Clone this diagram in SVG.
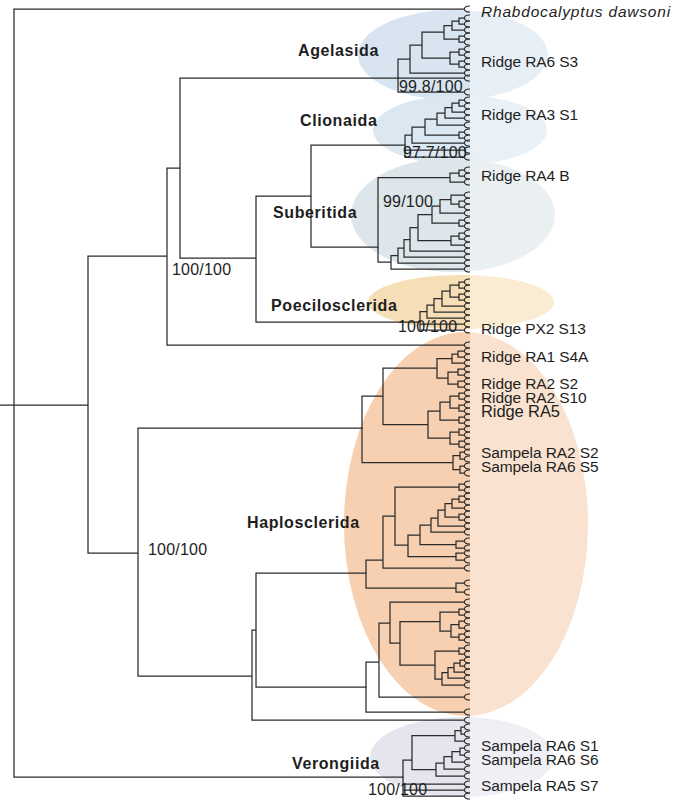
<svg xmlns="http://www.w3.org/2000/svg" xmlns:xlink="http://www.w3.org/1999/xlink" width="680" height="801" viewBox="0 0 680 801">
<defs>
<style>
.tree{fill:none;stroke:#2b2b2b;stroke-width:1.25;stroke-linecap:square}
.tx{font-family:"Liberation Sans",Arial,sans-serif;fill:#1e1e1e}
.taxon{font-size:15.5px;letter-spacing:-0.1px}
.it{font-style:italic;letter-spacing:0.8px}
.clade{font-size:16px;font-weight:bold;letter-spacing:0.6px}
.bs{font-size:16px;letter-spacing:0.2px}
</style>
<path id="c" d="M470,-3 C466.2,-3.2 464.4,-1.7 464.4,0 C464.4,1.7 466.2,3.2 470,3" fill="none" stroke="#2b2b2b" stroke-width="1.1"/>
</defs>
<rect width="680" height="801" fill="#ffffff"/>
<g id="clade-shading">
<ellipse cx="453" cy="55" rx="95" ry="45" fill="#d8e5f1"/>
<ellipse cx="460" cy="130" rx="87" ry="35" fill="#dbe8f2"/>
<ellipse cx="453" cy="215" rx="102" ry="57" fill="#dde6ea"/>
<ellipse cx="461" cy="302" rx="93" ry="27" fill="#f6dfb6"/>
<ellipse cx="466" cy="524" rx="122" ry="192" fill="#f6d0b1"/>
<ellipse cx="462" cy="757" rx="92" ry="40" fill="#e5e5ee"/>
<rect x="470" y="0" width="210" height="801" fill="#ffffff" opacity="0.4"/>
</g>
<g id="connectors" class="tree">
<path d="M0,405H88 M14,9V777 M14,9H464 M88,256V553 M88,256H167 M167,168V345 M167,168H180 M180,78V258 M180,78H398 M180,258H256 M256,196V322 M256,196H311 M311,145V247 M311,145H405 M311,247H378 M256,322H420 M167,345H464 M88,553H138 M138,428V676 M138,428H362 M138,676H252 M252,630V720 M252,720H464 M252,630H256 M256,573V687 M256,573H366 M256,687H366 M14,777H403"/>
<path d="M398,59V92 M398,59H410 M398,78H464 M398,92H464 M410,45V73 M410,45H422 M410,73H464 M422,32V58 M422,32H444 M422,58H450 M444,25.5V39 M444,25.5H452 M444,39H459 M452,21V30 M452,21H459 M452,30H464 M459,18V24 M459,18H464 M459,24H464 M459,36V42 M459,36H464 M459,42H464 M450,52V64 M450,52H459 M450,64H459 M459,49V55 M459,49H464 M459,55H464 M459,61V67 M459,61H464 M459,67H464"/>
<path d="M405,135V157 M405,135H412 M405,150H464 M405,157H464 M412,127V143 M412,127H425 M412,143H464 M425,119V135 M425,119H437 M425,135H459 M459,132V138 M459,132H464 M459,138H464 M437,113V125 M437,113H445 M437,125H464 M445,107.5V118 M445,107.5H452 M445,118H464 M452,103V112 M452,103H459 M452,112H464 M459,100V106 M459,100H464 M459,106H464"/>
<path d="M378,177.5V262 M378,177.5H450 M378,262H391 M450,173V182 M450,173H459 M450,182H464 M459,170V176 M459,170H464 M459,176H464 M391,255.5V269 M391,255.5H398 M391,269H464 M398,248V263 M398,248H404 M398,263H464 M404,239.5V257 M404,239.5H410 M404,257H464 M410,227.5V251 M410,227.5H418 M410,251H464 M418,214.5V240.5 M418,214.5H432 M418,240.5H451 M451,236V245 M451,236H459 M451,245H464 M459,233V239 M459,233H464 M459,239H464 M432,206V223 M432,206H440 M432,223H459 M459,220V226 M459,220H464 M459,226H464 M440,199.5V213 M440,199.5H451 M440,213H464 M451,195V204 M451,195H464 M451,204H459 M459,201V207 M459,201H464 M459,207H464"/>
<path d="M420,311.5V330 M420,311.5H427 M420,324H464 M420,330H464 M427,305V318 M427,305H434 M427,318H464 M434,298.5V312 M434,298.5H442 M434,312H464 M442,291V306 M442,291H450 M442,306H464 M450,285V297 M450,285H459 M450,297H459 M459,282V288 M459,282H464 M459,288H464 M459,294V300 M459,294H464 M459,300H464"/>
<path d="M362,396V462.5 M362,396H383 M362,462.5H453 M453,455.5V469.5 M453,455.5H460 M453,469.5H460 M460,452V459 M460,452H464 M460,459H464 M460,466V473 M460,466H464 M460,473H464 M383,368V424.5 M383,368H437 M383,424.5H428 M437,358.5V378 M437,358.5H452 M437,378H448 M452,354V363 M452,354H458 M452,363H464 M458,351V357 M458,351H464 M458,357H464 M448,372V384 M448,372H458 M448,384H458 M458,369V375 M458,369H464 M458,375H464 M458,381V387 M458,381H464 M458,387H464 M428,411V438 M428,411H440 M428,438H450 M440,402V420 M440,402H450 M440,420H459 M459,417V423 M459,417H464 M459,423H464 M450,396V408 M450,396H459 M450,408H459 M459,393V399 M459,393H464 M459,399H464 M459,405V411 M459,405H464 M459,411H464 M450,432V444 M450,432H459 M450,444H459 M459,429V435 M459,429H464 M459,435H464 M459,441V447 M459,441H464 M459,447H464"/>
<path d="M366,560V588 M366,560H383 M366,588H456 M456,583V592 M456,583H464 M456,592H464 M383,516V568 M383,516H395 M383,568H464 M395,487V545 M395,487H459 M395,545H408 M459,484V490 M459,484H464 M459,490H464 M408,535V556.5 M408,535H420 M408,556.5H456 M456,553V560 M456,553H464 M456,560H464 M420,525V544.5 M420,525H431 M420,544.5H456 M456,541V548 M456,541H464 M456,548H464 M431,518V532 M431,518H438 M431,532H464 M438,510V526 M438,510H445 M438,526H464 M445,503.5V517 M445,503.5H452 M445,517H459 M459,514V520 M459,514H464 M459,520H464 M452,499V508 M452,499H459 M452,508H464 M459,496V502 M459,496H464 M459,502H464"/>
<path d="M366,662V712 M366,662H379 M366,712H464 M379,623V697 M379,623H390 M379,697H464 M390,602V643 M390,602H464 M390,643H400 M400,621.5V665 M400,621.5H440 M400,665H435 M440,612V631 M440,612H459 M440,631H451 M459,609V615 M459,609H464 M459,615H464 M451,624.5V637 M451,624.5H459 M451,637H459 M459,621V628 M459,621H464 M459,628H464 M459,634V640 M459,634H464 M459,640H464 M435,651V679 M435,651H459 M435,679H442 M459,648V654 M459,648H464 M459,654H464 M442,672.5V685 M442,672.5H448 M442,685H464 M448,667.5V678 M448,667.5H454 M448,678H464 M454,663V672 M454,663H460 M454,672H464 M460,660V666 M460,660H464 M460,666H464"/>
<path d="M403,760V796 M403,760H412 M403,784H464 M403,790H464 M403,796H464 M412,735.5V769.5 M412,735.5H455 M412,769.5H436 M455,730.5V741 M455,730.5H461 M455,741H464 M461,727V734 M461,727H464 M461,734H464 M436,763V776 M436,763H444 M436,776H464 M444,756.5V769 M444,756.5H452 M444,769H464 M452,751.5V762 M452,751.5H460 M452,762H464 M460,748V755 M460,748H464 M460,755H464"/>
</g>
<g id="leaf-ends">
<use xlink:href="#c" y="9"/>
<use xlink:href="#c" y="18"/><use xlink:href="#c" y="24"/><use xlink:href="#c" y="30"/><use xlink:href="#c" y="36"/><use xlink:href="#c" y="42"/><use xlink:href="#c" y="49"/><use xlink:href="#c" y="55"/><use xlink:href="#c" y="61"/><use xlink:href="#c" y="67"/><use xlink:href="#c" y="73"/><use xlink:href="#c" y="78"/><use xlink:href="#c" y="92"/>
<use xlink:href="#c" y="100"/><use xlink:href="#c" y="106"/><use xlink:href="#c" y="112"/><use xlink:href="#c" y="118"/><use xlink:href="#c" y="125"/><use xlink:href="#c" y="132"/><use xlink:href="#c" y="138"/><use xlink:href="#c" y="143"/><use xlink:href="#c" y="150"/><use xlink:href="#c" y="157"/>
<use xlink:href="#c" y="170"/><use xlink:href="#c" y="176"/><use xlink:href="#c" y="182"/><use xlink:href="#c" y="195"/><use xlink:href="#c" y="201"/><use xlink:href="#c" y="207"/><use xlink:href="#c" y="213"/><use xlink:href="#c" y="220"/><use xlink:href="#c" y="226"/><use xlink:href="#c" y="233"/><use xlink:href="#c" y="239"/><use xlink:href="#c" y="245"/><use xlink:href="#c" y="251"/><use xlink:href="#c" y="257"/><use xlink:href="#c" y="263"/><use xlink:href="#c" y="269"/>
<use xlink:href="#c" y="282"/><use xlink:href="#c" y="288"/><use xlink:href="#c" y="294"/><use xlink:href="#c" y="300"/><use xlink:href="#c" y="306"/><use xlink:href="#c" y="312"/><use xlink:href="#c" y="318"/><use xlink:href="#c" y="324"/><use xlink:href="#c" y="330"/>
<use xlink:href="#c" y="345"/>
<use xlink:href="#c" y="351"/><use xlink:href="#c" y="357"/><use xlink:href="#c" y="363"/><use xlink:href="#c" y="369"/><use xlink:href="#c" y="375"/><use xlink:href="#c" y="381"/><use xlink:href="#c" y="387"/><use xlink:href="#c" y="393"/><use xlink:href="#c" y="399"/><use xlink:href="#c" y="405"/><use xlink:href="#c" y="411"/><use xlink:href="#c" y="417"/><use xlink:href="#c" y="423"/><use xlink:href="#c" y="429"/><use xlink:href="#c" y="435"/><use xlink:href="#c" y="441"/><use xlink:href="#c" y="447"/><use xlink:href="#c" y="452"/><use xlink:href="#c" y="459"/><use xlink:href="#c" y="466"/><use xlink:href="#c" y="473"/>
<use xlink:href="#c" y="484"/><use xlink:href="#c" y="490"/><use xlink:href="#c" y="496"/><use xlink:href="#c" y="502"/><use xlink:href="#c" y="508"/><use xlink:href="#c" y="514"/><use xlink:href="#c" y="520"/><use xlink:href="#c" y="526"/><use xlink:href="#c" y="532"/><use xlink:href="#c" y="541"/><use xlink:href="#c" y="548"/><use xlink:href="#c" y="553"/><use xlink:href="#c" y="560"/><use xlink:href="#c" y="568"/><use xlink:href="#c" y="583"/><use xlink:href="#c" y="592"/>
<use xlink:href="#c" y="602"/><use xlink:href="#c" y="609"/><use xlink:href="#c" y="615"/><use xlink:href="#c" y="621"/><use xlink:href="#c" y="628"/><use xlink:href="#c" y="634"/><use xlink:href="#c" y="640"/><use xlink:href="#c" y="648"/><use xlink:href="#c" y="654"/><use xlink:href="#c" y="660"/><use xlink:href="#c" y="666"/><use xlink:href="#c" y="672"/><use xlink:href="#c" y="678"/><use xlink:href="#c" y="685"/><use xlink:href="#c" y="697"/><use xlink:href="#c" y="712"/><use xlink:href="#c" y="720"/>
<use xlink:href="#c" y="727"/><use xlink:href="#c" y="734"/><use xlink:href="#c" y="741"/><use xlink:href="#c" y="748"/><use xlink:href="#c" y="755"/><use xlink:href="#c" y="762"/><use xlink:href="#c" y="769"/><use xlink:href="#c" y="776"/><use xlink:href="#c" y="784"/><use xlink:href="#c" y="790"/><use xlink:href="#c" y="796"/>
</g>
<g id="clade-labels" class="tx clade">
<text id="agelasida" x="298" y="56">Agelasida</text>
<text id="clionaida" x="300" y="126">Clionaida</text>
<text id="suberitida" x="273" y="218">Suberitida</text>
<text id="poecilosclerida" x="271" y="311">Poecilosclerida</text>
<text id="haplosclerida" x="247" y="528">Haplosclerida</text>
<text id="verongiida" x="292" y="769">Verongiida</text>
</g>
<g id="support-values" class="tx bs">
<text x="399" y="92">99.8/100</text>
<text x="403" y="158">97.7/100</text>
<text x="383" y="207">99/100</text>
<text x="172" y="275">100/100</text>
<text x="398" y="332">100/100</text>
<text x="148" y="555">100/100</text>
<text x="368" y="795">100/100</text>
</g>
<g id="taxon-labels" class="tx taxon">
<text class="it" x="481" y="17">Rhabdocalyptus dawsoni</text>
<text x="481" y="67">Ridge RA6 S3</text>
<text x="481" y="120">Ridge RA3 S1</text>
<text x="481" y="181">Ridge RA4 B</text>
<text x="481" y="334">Ridge PX2 S13</text>
<text x="481" y="362">Ridge RA1 S4A</text>
<text x="481" y="389">Ridge RA2 S2</text>
<text x="481" y="403">Ridge RA2 S10</text>
<text x="481" y="417" font-size="16.5">Ridge RA5</text>
<text x="481" y="458">Sampela RA2 S2</text>
<text x="481" y="472">Sampela RA6 S5</text>
<text x="481" y="751">Sampela RA6 S1</text>
<text x="481" y="765">Sampela RA6 S6</text>
<text x="481" y="791">Sampela RA5 S7</text>
</g>
</svg>
